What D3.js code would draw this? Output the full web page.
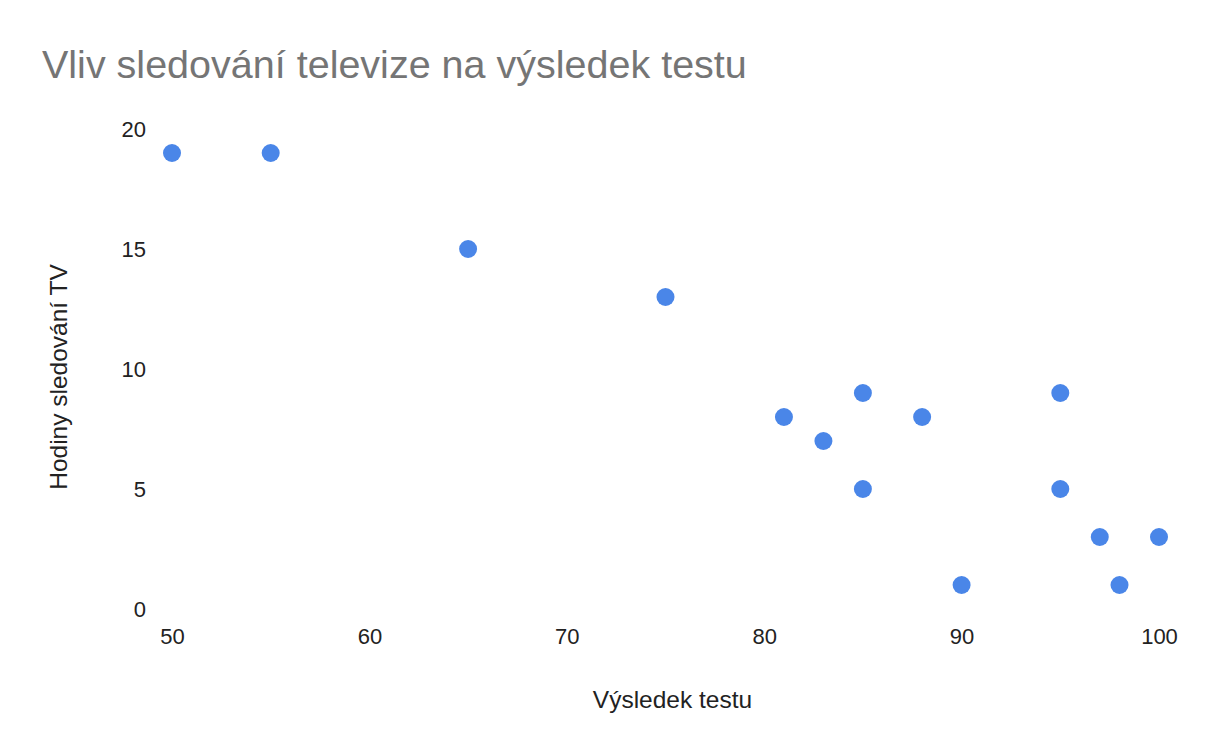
<!DOCTYPE html>
<html>
<head>
<meta charset="utf-8">
<script src="https://cdnjs.cloudflare.com/ajax/libs/d3/7.8.5/d3.min.js"></script>
<style>
  body { margin: 0; background: #fff; }
  svg { font-family: "Liberation Sans", Arial, sans-serif; }
</style>
</head>
<body>
<div id="chart"></div>
<script>
const title = "Vliv sledování televize na výsledek testu";
const xTitle = "Výsledek testu";
const yTitle = "Hodiny sledování TV";

// výsledek testu / hodiny TV
const scores = [50, 55, 65, 75, 81, 83, 85, 85, 88, 90, 95, 95, 97, 98, 100];
const hours  = [19, 19, 15, 13, 8, 7, 9, 5, 8, 1, 9, 5, 3, 1, 3];

const xTicks = [50, 60, 70, 80, 90, 100];
const yTicks = [0, 5, 10, 15, 20];

const w = 1230;
const h = 752;

const svg = d3.select("#chart")
  .append("svg")
  .attr("width", w)
  .attr("height", h);

const xScale = d3.scaleLinear().domain([50, 100]).range([172, 1159]);
const yScale = d3.scaleLinear().domain([0, 20]).range([609, 129]);

svg.append("text")
  .attr("x", 42)
  .attr("y", 78)
  .attr("fill", "#757575")
  .attr("font-size", 39.5)
  .text(title);

const xAxis = d3.axisBottom(xScale).tickValues(xTicks).tickSize(0).tickPadding(19);
const yAxis = d3.axisLeft(yScale).tickValues(yTicks).tickSize(0).tickPadding(26);

const gx = svg.append("g")
  .attr("transform", "translate(0,609)")
  .call(xAxis);
const gy = svg.append("g")
  .attr("transform", "translate(172,0)")
  .call(yAxis);

[gx, gy].forEach(g => {
  g.select(".domain").remove();
  g.selectAll("text")
    .attr("font-family", null)
    .attr("font-size", 22)
    .attr("fill", "#222");
});

svg.append("text")
  .attr("x", 672.5)
  .attr("y", 708)
  .attr("text-anchor", "middle")
  .attr("font-size", 24.5)
  .attr("fill", "#222")
  .text(xTitle);

svg.append("text")
  .attr("transform", "translate(67,377) rotate(-90)")
  .attr("text-anchor", "middle")
  .attr("font-size", 24.5)
  .attr("fill", "#222")
  .text(yTitle);

svg.selectAll("circle")
  .data(scores)
  .enter()
  .append("circle")
  .attr("cx", d => xScale(d))
  .attr("cy", (d, i) => yScale(hours[i]))
  .attr("r", 9)
  .attr("fill", "#4a86e8");
</script>
</body>
</html>
